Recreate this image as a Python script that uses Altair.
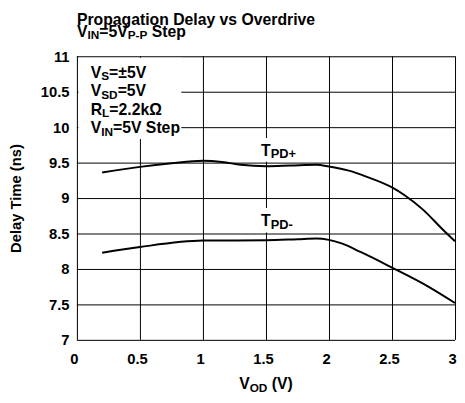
import altair as alt
import pandas as pd

# ---------------- data ----------------
vod_plus = [0.2, 0.5, 0.75, 1.0, 1.15, 1.3, 1.5, 1.7, 1.9, 2.0, 2.15, 2.3, 2.5, 2.6, 2.75, 2.9, 3.0]
tpd_plus = [9.36, 9.44, 9.49, 9.525, 9.51, 9.47, 9.45, 9.46, 9.47, 9.445, 9.39, 9.30, 9.15, 9.04, 8.83, 8.56, 8.39]

vod_minus = [0.2, 0.5, 1.0, 1.5, 1.75, 1.9, 2.0, 2.1, 2.25, 2.5, 2.75, 3.0]
tpd_minus = [8.23, 8.31, 8.40, 8.405, 8.42, 8.43, 8.41, 8.36, 8.24, 8.02, 7.79, 7.52]

x_ticks = [0.0, 0.5, 1.0, 1.5, 2.0, 2.5, 3.0]
y_ticks = [7.0, 7.5, 8.0, 8.5, 9.0, 9.5, 10.0, 10.5, 11.0]

title_line1 = [("Propagation Delay vs Overdrive", "m")]
title_line2 = [("V", "m"), ("IN", "s"), ("=5V", "m"), ("P-P", "s"), (" Step", "m")]
cond_lines = [
    [("V", "m"), ("S", "s"), ("=\u00b15V", "m")],
    [("V", "m"), ("SD", "s"), ("=5V", "m")],
    [("R", "m"), ("L", "s"), ("=2.2k\u03a9", "m")],
    [("V", "m"), ("IN", "s"), ("=5V Step", "m")],
]
label_plus = [("T", "m"), ("PD+", "s")]
label_minus = [("T", "m"), ("PD-", "s")]
x_title = [("V", "m"), ("OD", "s"), (" (V)", "m")]
y_title = "Delay Time (ns)"

# ---------------- layout helpers ----------------
W, H = 384, 288
X0, X1, Y0, Y1 = 0.0, 3.0, 7.0, 11.0
FONT = "Liberation Sans"

AW = {' ': 278, '(': 333, ')': 333, '+': 584, '-': 333, '.': 278, '=': 584, '\u00b1': 549,
      'D': 722, 'I': 278, 'L': 611, 'N': 722, 'O': 778, 'P': 667, 'R': 722, 'S': 667,
      'T': 611, 'V': 667, 'a': 556, 'd': 611, 'e': 556, 'g': 611, 'i': 278, 'k': 556,
      'l': 278, 'n': 611, 'o': 611, 'p': 611, 'r': 389, 's': 556, 't': 333, 'v': 556,
      'y': 556, '\u03a9': 768}


def text_w(s, size):
    return sum(AW.get(c, 556) for c in s) * size / 1000.0


def px_to_x(px):
    return X0 + px / W * (X1 - X0)


def py_to_y(py):
    return Y1 - py / H * (Y1 - Y0)


rows = []


def add_line(parts, px, py, main, sub, center=False):
    total = sum(text_w(t, main if k == "m" else sub) for t, k in parts)
    cx = px - total / 2 if center else px
    for t, k in parts:
        size = main if k == "m" else sub
        dy = 0 if k == "m" else 2.5
        lead = len(t) - len(t.lstrip(" "))
        start = cx + text_w(" " * lead, size)
        rows.append({"x": px_to_x(start), "y": py_to_y(py + dy), "text": t.lstrip(" "), "size": size})
        cx += text_w(t, size)


add_line(title_line1, 0, -32, 16, 12)
add_line(title_line2, 0, -20, 16, 12)
for i, ln in enumerate(cond_lines):
    add_line(ln, 14, 22 + i * 18.7, 16, 12)
add_line(label_plus, 187, 101, 16, 13)
add_line(label_minus, 187, 172.5, 16, 13)
add_line(x_title, 192, 338, 16, 12, center=True)
ann = pd.DataFrame(rows)

# white backgrounds behind the annotation texts (hide grid lines)
boxes = pd.DataFrame({
    "x": [px_to_x(1.5), px_to_x(180), px_to_x(180)],
    "x2": [px_to_x(106), px_to_x(224), px_to_x(224)],
    "y": [py_to_y(1.5), py_to_y(83), py_to_y(154)],
    "y2": [py_to_y(84), py_to_y(107), py_to_y(179)],
})

curves = pd.concat([
    pd.DataFrame({"vod": vod_plus, "t": tpd_plus, "series": "TPD+"}),
    pd.DataFrame({"vod": vod_minus, "t": tpd_minus, "series": "TPD-"}),
])
vgrid = pd.DataFrame({"v": x_ticks})
hgrid = pd.DataFrame({"h": y_ticks})

x_scale = alt.Scale(domain=[X0, X1], nice=False, zero=False)
y_scale = alt.Scale(domain=[Y0, Y1], nice=False, zero=False)

common_axis = dict(grid=False, tickSize=0,
                   domain=False, labelFont=FONT, labelFontSize=15, labelFontWeight="bold",
                   labelColor="black", labelFlush=False, labelOverlap=False, format="~g")

x_axis = alt.Axis(values=x_ticks, title=None, labelPadding=12, labelOffset=-3, **common_axis)
y_axis = alt.Axis(values=y_ticks, title=y_title, labelPadding=8, titleFont=FONT, titleFontSize=15,
                  titleFontWeight="bold", titleColor="black", titleAngle=270, titleX=-57,
                  titleY=H / 2, titleAlign="center", titleBaseline="alphabetic", **common_axis)

vrules = alt.Chart(vgrid).mark_rule(color="black", strokeWidth=1, xOffset=0.5).encode(
    x=alt.X("v:Q", scale=x_scale, axis=x_axis),
)
hrules = alt.Chart(hgrid).mark_rule(color="black", strokeWidth=1, yOffset=0.5).encode(
    y=alt.Y("h:Q", scale=y_scale, axis=y_axis),
)

rects = alt.Chart(boxes).mark_rect(color="white").encode(
    x=alt.X("x:Q", scale=x_scale, axis=x_axis),
    x2="x2:Q",
    y=alt.Y("y:Q", scale=y_scale, axis=y_axis),
    y2="y2:Q",
)

lines = alt.Chart(curves).mark_line(color="black", strokeWidth=2, interpolate="monotone").encode(
    x=alt.X("vod:Q", scale=x_scale, axis=x_axis),
    y=alt.Y("t:Q", scale=y_scale, axis=y_axis),
    detail="series:N",
)

texts = alt.Chart(ann).mark_text(align="left", baseline="alphabetic", font=FONT,
                                 fontWeight="bold", color="black").encode(
    x=alt.X("x:Q", scale=x_scale, axis=x_axis),
    y=alt.Y("y:Q", scale=y_scale, axis=y_axis),
    text="text:N",
    size=alt.Size("size:Q", scale=None, legend=None),
)

chart = alt.layer(vrules, hrules, rects, lines, texts).properties(
    width=W, height=H,
    padding={"left": 70, "top": 46, "right": 2, "bottom": 55},
    autosize=alt.AutoSizeParams(type="none"),
).configure_view(stroke="black", strokeWidth=1).configure(font=FONT, background="white")

chart.save("out.html", embed_options={"renderer": "svg", "actions": False})
